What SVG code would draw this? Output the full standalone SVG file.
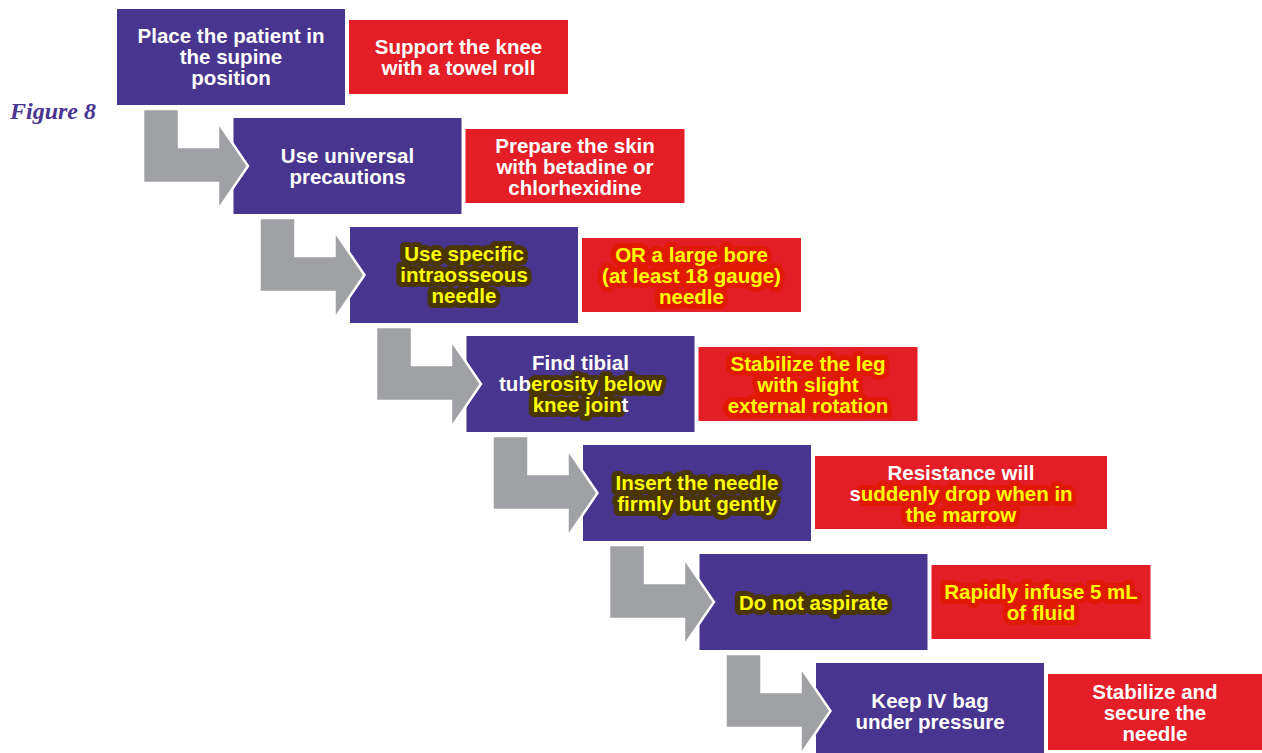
<svg xmlns="http://www.w3.org/2000/svg" xmlns:xlink="http://www.w3.org/1999/xlink" width="1262" height="753" viewBox="0 0 1262 753">
<style>
.pb{fill:#48358f}
.rb{fill:#e31e26}
.ar{fill:#a0a1a4;stroke:#fff;stroke-width:2.5;stroke-linejoin:miter}
text{font-family:"Liberation Sans",Arial,sans-serif;font-weight:bold;font-size:20.5px;text-anchor:middle}
.w{fill:#fff}
.y{fill:#ffff00}
.hp{fill:#4a3400;stroke:#4a3400;stroke-width:10;stroke-linejoin:round}
.hr{fill:#e01a00;stroke:#e01a00;stroke-width:10;stroke-linejoin:round}
.nh{fill:none;stroke:none}
.fig{font-family:"Liberation Serif","Times New Roman",serif;font-style:italic;font-weight:bold;font-size:24px;text-anchor:start;fill:#4a3591}
</style>
<defs>
<polygon id="arr" class="ar" points="143,109 179,109 179,147 218,147 218,122 248,166 218,210 218,183 143,183"/>
</defs>
<rect width="1262" height="753" fill="#fff"/>
<text class="fig" x="10" y="119">Figure 8</text>

<g id="step1">
<rect class="pb" x="117" y="9" width="228" height="96"/>
<text class="w" x="231" y="43">Place the patient in</text>
<text class="w" x="231" y="64">the supine</text>
<text class="w" x="231" y="85">position</text>
</g>
<g id="note1">
<rect class="rb" x="349" y="20" width="219" height="74"/>
<text class="w" x="458.5" y="54">Support the knee</text>
<text class="w" x="458.5" y="75">with a towel roll</text>
</g>

<g id="step2">
<rect class="pb" x="233.5" y="118" width="228" height="96"/>
<text class="w" x="347.5" y="163">Use universal</text>
<text class="w" x="347.5" y="184">precautions</text>
</g>
<g id="note2">
<rect class="rb" x="465.5" y="129" width="219" height="74"/>
<text class="w" x="575" y="153">Prepare the skin</text>
<text class="w" x="575" y="174">with betadine or</text>
<text class="w" x="575" y="195">chlorhexidine</text>
</g>

<g id="step3">
<rect class="pb" x="350" y="227" width="228" height="96"/>
<text class="hp" x="464" y="261">Use specific</text>
<text class="hp" x="464" y="282">intraosseous</text>
<text class="hp" x="464" y="303">needle</text>
<text class="y" x="464" y="261">Use specific</text>
<text class="y" x="464" y="282">intraosseous</text>
<text class="y" x="464" y="303">needle</text>
</g>
<g id="note3">
<rect class="rb" x="582" y="238" width="219" height="74"/>
<text class="hr" x="691.5" y="262">OR a large bore</text>
<text class="hr" x="691.5" y="283">(at least 18 gauge)</text>
<text class="hr" x="691.5" y="304">needle</text>
<text class="y" x="691.5" y="262">OR a large bore</text>
<text class="y" x="691.5" y="283">(at least 18 gauge)</text>
<text class="y" x="691.5" y="304">needle</text>
</g>

<g id="step4">
<rect class="pb" x="466.5" y="336" width="228" height="96"/>
<text class="hp" x="580.5" y="391"><tspan class="nh">tub</tspan>erosity below</text>
<text class="hp" x="580.5" y="412">knee join<tspan class="nh">t</tspan></text>
<text class="w" x="580.5" y="370">Find tibial</text>
<text class="y" x="580.5" y="391"><tspan class="w">tub</tspan>erosity below</text>
<text class="y" x="580.5" y="412">knee join<tspan class="w">t</tspan></text>
</g>
<g id="note4">
<rect class="rb" x="698.5" y="347" width="219" height="74"/>
<text class="hr" x="808" y="371">Stabilize the leg</text>
<text class="hr" x="808" y="392">with slight</text>
<text class="hr" x="808" y="413">external rotation</text>
<text class="y" x="808" y="371">Stabilize the leg</text>
<text class="y" x="808" y="392">with slight</text>
<text class="y" x="808" y="413">external rotation</text>
</g>

<g id="step5">
<rect class="pb" x="583" y="445" width="228" height="96"/>
<text class="hp" x="697" y="490">Insert the needle</text>
<text class="hp" x="697" y="511">firmly but gently</text>
<text class="y" x="697" y="490">Insert the needle</text>
<text class="y" x="697" y="511">firmly but gently</text>
</g>
<g id="note5">
<rect class="rb" x="815" y="456" width="292" height="73"/>
<text class="hr" x="961" y="501"><tspan class="nh">s</tspan>uddenly drop when in</text>
<text class="hr" x="961" y="522">the marrow</text>
<text class="w" x="961" y="480">Resistance will</text>
<text class="y" x="961" y="501"><tspan class="w">s</tspan>uddenly drop when in</text>
<text class="y" x="961" y="522">the marrow</text>
</g>

<g id="step6">
<rect class="pb" x="699.5" y="554" width="228" height="96"/>
<text class="hp" x="813.5" y="610">Do not aspirate</text>
<text class="y" x="813.5" y="610">Do not aspirate</text>
</g>
<g id="note6">
<rect class="rb" x="931.5" y="565" width="219" height="74"/>
<text class="hr" x="1041" y="599">Rapidly infuse 5 mL</text>
<text class="hr" x="1041" y="620">of fluid</text>
<text class="y" x="1041" y="599">Rapidly infuse 5 mL</text>
<text class="y" x="1041" y="620">of fluid</text>
</g>

<g id="step7">
<rect class="pb" x="816" y="663" width="228" height="96"/>
<text class="w" x="930" y="708">Keep IV bag</text>
<text class="w" x="930" y="729">under pressure</text>
</g>
<g id="note7">
<rect class="rb" x="1048" y="674" width="214" height="76"/>
<text class="w" x="1155" y="699">Stabilize and</text>
<text class="w" x="1155" y="720">secure the</text>
<text class="w" x="1155" y="741">needle</text>
</g>

<g id="connectors">
<use xlink:href="#arr"/>
<use xlink:href="#arr" transform="translate(116.5,109)"/>
<use xlink:href="#arr" transform="translate(233,218)"/>
<use xlink:href="#arr" transform="translate(349.5,327)"/>
<use xlink:href="#arr" transform="translate(466,436)"/>
<use xlink:href="#arr" transform="translate(582.5,545)"/>
</g>
</svg>
